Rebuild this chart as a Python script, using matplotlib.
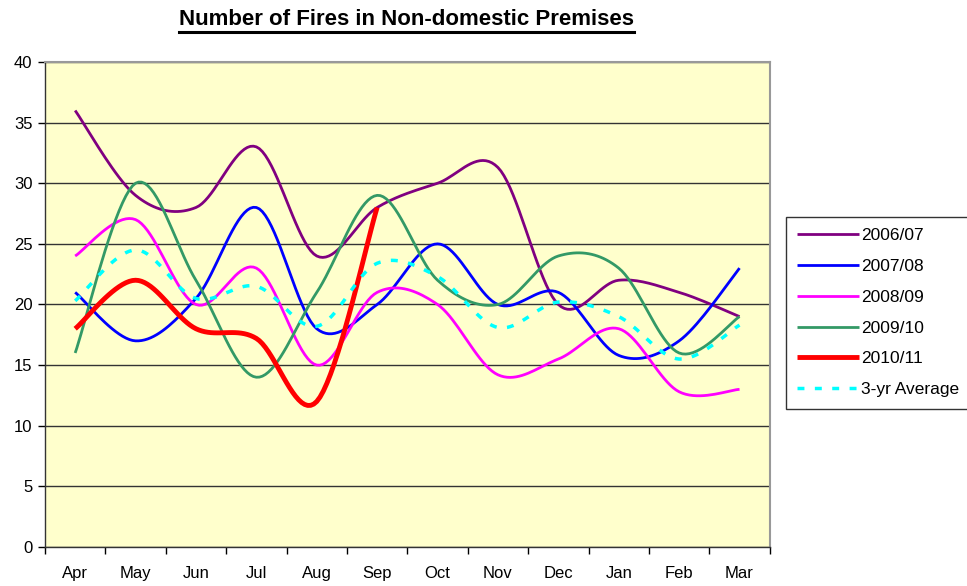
import numpy as np
import matplotlib
matplotlib.use('Agg')
import matplotlib.pyplot as plt

months = ['Apr', 'May', 'Jun', 'Jul', 'Aug', 'Sep', 'Oct', 'Nov', 'Dec', 'Jan', 'Feb', 'Mar']

fy0607 = [36, 29, 28, 33, 24, 28, 30, 31.3, 20, 22, 21, 19]
fy0708 = [21, 17, 20.5, 28, 18, 20, 25, 20, 21, 15.8, 17, 23]
fy0809 = [24, 27, 20, 23, 15, 21, 20, 14.2, 15.5, 18, 12.8, 13]
fy0910 = [16, 30, 22, 14, 21, 29, 22, 20, 24, 23, 16, 19]
fy1011 = [18, 22, 18, 17.2, 12, 28]
avg3yr = [20.3, 24.5, 20.5, 21.5, 18.2, 23.4, 22.3, 18.1, 20.2, 19, 15.5, 18.3]


def smooth(y, n=20):
    # Excel-like smoothed line (Catmull-Rom through the points)
    y = np.asarray(y, dtype=float)
    x = np.arange(len(y), dtype=float)
    px = np.concatenate([[x[0]], x, [x[-1]]])
    py = np.concatenate([[y[0]], y, [y[-1]]])
    xs, ys = [], []
    for i in range(1, len(px) - 2):
        p0, p1, p2, p3 = py[i - 1], py[i], py[i + 1], py[i + 2]
        q0, q1, q2, q3 = px[i - 1], px[i], px[i + 1], px[i + 2]
        t = np.linspace(0, 1, n, endpoint=(i == len(px) - 3))
        # bezier control points
        c1y = p1 + (p2 - p0) / 6
        c2y = p2 - (p3 - p1) / 6
        c1x = q1 + (q2 - q0) / 6
        c2x = q2 - (q3 - q1) / 6
        b = [(1 - t) ** 3, 3 * (1 - t) ** 2 * t, 3 * (1 - t) * t ** 2, t ** 3]
        xs.append(b[0] * q1 + b[1] * c1x + b[2] * c2x + b[3] * q2)
        ys.append(b[0] * p1 + b[1] * c1y + b[2] * c2y + b[3] * p2)
    return np.concatenate(xs), np.concatenate(ys)


plt.rcParams['font.family'] = ['Liberation Sans', 'DejaVu Sans']

fig = plt.figure(figsize=(9.67, 5.86), dpi=100)
ax = fig.add_axes([0.0465, 0.0666, 0.7495, 0.8276])
ax.set_facecolor('#FFFFCC')

series = [
    (fy0607, '2006/07', '#800080', 2.0, '-'),
    (fy0708, '2007/08', '#0000FF', 2.0, '-'),
    (fy0809, '2008/09', '#FF00FF', 2.0, '-'),
    (fy0910, '2009/10', '#339966', 2.0, '-'),
    (fy1011, '2010/11', '#FF0000', 3.5, '-'),
    (avg3yr, '3-yr Average', '#00FFFF', 2.5, (0, (2, 3))),
]
for vals, name, col, lw, ls in series:
    sx, sy = smooth(vals)
    ax.plot(sx, sy, color=col, lw=lw, ls=ls, label=name, solid_capstyle='butt')

ax.set_xlim(-0.5, 11.5)
ax.set_ylim(0, 40)
ax.set_yticks(range(0, 41, 5))
ax.set_xticks(range(12))
ax.set_xticklabels(months)
ax.set_xticks(np.arange(-0.5, 12, 1), minor=True)
ax.tick_params(axis='x', which='major', length=0, pad=14, labelsize=12)
ax.tick_params(axis='x', which='minor', length=5, width=1)
ax.tick_params(axis='y', length=5, width=1, labelsize=12, pad=4)
ax.yaxis.grid(True, color='#333333', lw=1)
ax.set_axisbelow(True)
for s in ['top', 'right']:
    ax.spines[s].set_color('#999999')
    ax.spines[s].set_linewidth(1.5)
for s in ['left', 'bottom']:
    ax.spines[s].set_color('#333333')
    ax.spines[s].set_linewidth(1)

# title with underline
ttl = fig.text(0.42, 0.966, 'Number of Fires in Non-domestic Premises', fontsize=16,
               fontweight='bold', ha='center', va='center')
fig.canvas.draw()
bb = ttl.get_window_extent()
inv = fig.transFigure.inverted()
(x0, y0), (x1, y1) = inv.transform([[bb.x0, bb.y0], [bb.x1, bb.y1]])
fig.add_artist(plt.Line2D([x0, x1], [y0 - 0.002, y0 - 0.002], color='black',
                          lw=2.2, transform=fig.transFigure))

leg = ax.legend(loc='center left', bbox_to_anchor=(1.01, 0.483), frameon=True,
                fancybox=False, edgecolor='black', fontsize=12.5,
                handlelength=3.6, handletextpad=0.1, labelspacing=0.9,
                borderpad=0.65)
leg.get_frame().set_linewidth(1)

fig.savefig('out.png', dpi=100)
